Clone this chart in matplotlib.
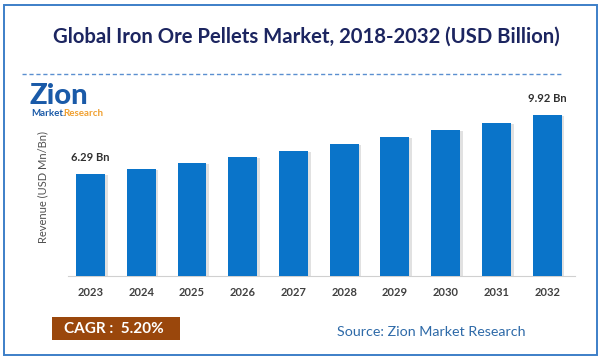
import matplotlib.pyplot as plt
import matplotlib.patheffects as pe
from matplotlib.patches import Rectangle

years = ['2023', '2024', '2025', '2026', '2027', '2028', '2029', '2030', '2031', '2032']
revenue = [6.29, 6.61, 6.96, 7.33, 7.70, 8.15, 8.58, 9.00, 9.45, 9.92]
first_label = '6.29 Bn'
last_label = '9.92 Bn'

plt.rcParams['font.family'] = ['Lato', 'DejaVu Sans']

fig = plt.figure(figsize=(6.02, 3.6), dpi=100)

# frame round the whole picture
fig.patches.append(Rectangle((4 / 602, 5 / 360), 593 / 602, 350 / 360, transform=fig.transFigure,
                             fill=False, edgecolor='#3d7fc8', linewidth=1.4))

fig.text(0.509, 0.897, 'Global Iron Ore Pellets Market, 2018-2032 (USD Billion)',
         ha='center', va='center', fontsize=14.6, fontweight='bold', color='#1c2560')
fig.add_artist(plt.Line2D([22 / 602, 562 / 602], [1 - 74 / 360] * 2, transform=fig.transFigure,
                          color='#5b8fd0', linestyle=(0, (3, 2)), linewidth=1))

# logo as text
fig.text(29 / 602, 1 - 96 / 360, 'Zion', ha='left', va='center', fontsize=21, fontweight='black',
         color='#1a5aa8')
fig.text(31 / 602, 1 - 113 / 360, 'Market.', ha='left', va='center', fontsize=7, fontweight='bold',
         color='#1a5aa8')
fig.text(63.5 / 602, 1 - 113 / 360, 'Research', ha='left', va='center', fontsize=7, fontweight='bold',
         color='#f0a030')

ax = fig.add_axes([67.7 / 602, 84 / 360, (575 - 67.7) / 602, 178.5 / 360])
x = range(len(years))
bars = ax.bar(x, revenue, width=0.57, color='#0a74c9', zorder=3)
for b in bars:
    b.set_path_effects([pe.SimplePatchShadow(offset=(2, -1), shadow_rgbFace='#aaaaaa', alpha=0.35),
                        pe.Normal()])

ax.set_xlim(-0.45, 9.55)
ax.set_ylim(0, 11)
ax.set_xticks(list(x))
ax.set_xticklabels(years, fontsize=8, fontweight='bold', color='#404040')
ax.tick_params(axis='x', length=0, pad=8)
ax.set_yticks([])
for s in ['top', 'right', 'left']:
    ax.spines[s].set_visible(False)
ax.spines['bottom'].set_color('#d0d0d0')
ax.set_ylabel('Revenue (USD Mn/Bn)', fontsize=8, color='#505050', labelpad=14)

ax.annotate(first_label, (0, revenue[0]), xytext=(0, 8), textcoords='offset points',
            ha='center', va='bottom', fontsize=8, fontweight='bold', color='#303030')
ax.annotate(last_label, (9, revenue[-1]), xytext=(0, 8), textcoords='offset points',
            ha='center', va='bottom', fontsize=8, fontweight='bold', color='#303030')

fig.patches.append(Rectangle((52 / 602, 1 - 340 / 360), 128 / 602, 23 / 360, transform=fig.transFigure,
                             facecolor='#9a470c', edgecolor='none'))
fig.text(114 / 602, 1 - 329 / 360, 'CAGR :  5.20%', ha='center', va='center', fontsize=11,
         fontweight='bold', color='white')
fig.text(431 / 602, 1 - 332 / 360, 'Source: Zion Market Research', ha='center', va='center',
         fontsize=10.3, color='#2e6aa8')

fig.savefig('out.png', dpi=100)
